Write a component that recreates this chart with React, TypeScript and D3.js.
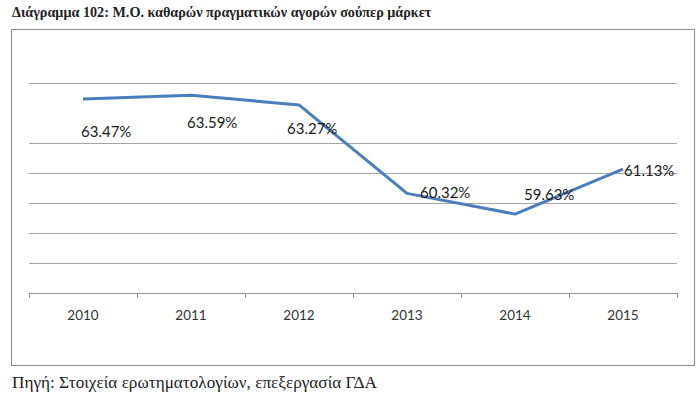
import React from "react";
import * as d3 from "d3";

const years = ["2010", "2011", "2012", "2013", "2014", "2015"];
const values = [63.47, 63.59, 63.27, 60.32, 59.63, 61.13];
const gridValues = [64, 62, 61, 60, 59, 58];
const yDomain = [57, 64.4];

const title = "Διάγραμμα 102: Μ.Ο. καθαρών πραγματικών αγορών σούπερ μάρκετ";
const source = "Πηγή: Στοιχεία ερωτηματολογίων, επεξεργασία ΓΔΑ";

// manual label nudges (relative to each point), as placed in the original
const labelDx = [-2, -4, -12, 13, 9, 1];
const labelDy = [38, 33, 29, 5, -14, 7];

export default function App() {
  const W = 700, H = 399;
  const x = d3.scaleBand<string>().domain(years).range([29, 677]);
  const y = d3.scaleLinear().domain(yDomain).range([293, 71]);
  const cx = (d: string) => (x(d) as number) + x.bandwidth() / 2;
  const line = d3.line<number>().x((_, i) => cx(years[i])).y((v) => y(v));
  const tickXs = years.map((d) => x(d) as number).concat([x.range()[1]]);
  const font = "Lato, 'Open Sans', sans-serif";

  return (
    <svg width={W} height={H} style={{ position: "absolute", left: 0, top: 0, background: "#fff" }}>
      <text x={12} y={17} fontFamily="'Liberation Serif', 'Times New Roman', serif" fontWeight="bold" fontSize={14.2} fill="#222">
        {title}
      </text>
      <rect x={11.5} y={29.5} width={683} height={336} fill="#fff" stroke="#8c8c8c" strokeWidth={1} />
      {gridValues.map((g) => (
        <line key={g} x1={29} x2={677} y1={Math.round(y(g)) + 0.5} y2={Math.round(y(g)) + 0.5} stroke="#a6a6a6" strokeWidth={1} />
      ))}
      <line x1={29} x2={677} y1={Math.round(y(yDomain[0])) + 0.5} y2={Math.round(y(yDomain[0])) + 0.5} stroke="#909090" strokeWidth={1} />
      {tickXs.map((t, i) => (
        <line key={i} x1={Math.round(t) + 0.5} x2={Math.round(t) + 0.5} y1={Math.round(y(yDomain[0]))} y2={Math.round(y(yDomain[0])) + 5} stroke="#909090" strokeWidth={1} />
      ))}
      {years.map((d) => (
        <text key={d} x={cx(d)} y={320} textAnchor="middle" fontFamily={font} fontSize={13.5} fill="#333">
          {d}
        </text>
      ))}
      <path d={line(values) || ""} fill="none" stroke="#4a7ebb" strokeWidth={3} strokeLinejoin="round" />
      {values.map((v, i) => (
        <text key={i} x={cx(years[i]) + labelDx[i]} y={y(v) + labelDy[i]} fontFamily={font} fontSize={15} fill="#1a1a1a">
          {v.toFixed(2) + "%"}
        </text>
      ))}
      <text x={12} y={388} fontFamily="'Liberation Serif', 'Times New Roman', serif" fontSize={17.2} fill="#222">
        {source}
      </text>
    </svg>
  );
}
